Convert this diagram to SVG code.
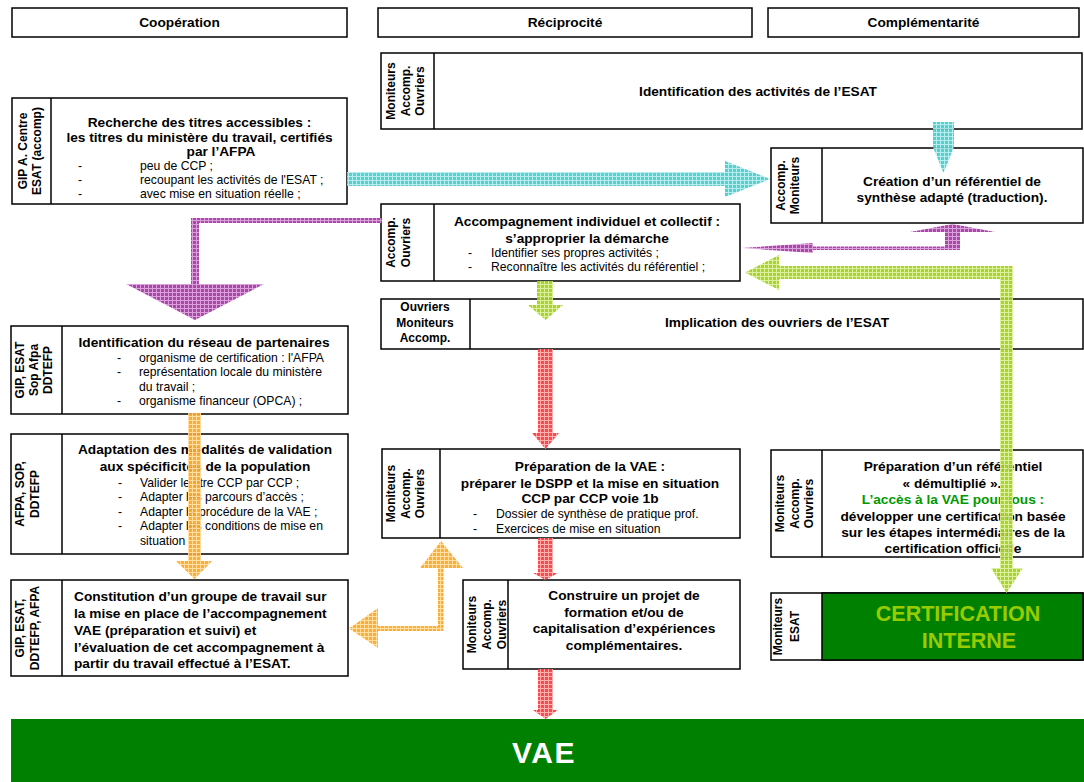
<svg xmlns="http://www.w3.org/2000/svg" width="1084" height="782" viewBox="0 0 1084 782">
<defs>
<style>
.box{fill:#fff;stroke:#000;stroke-width:1.5}
.dv{stroke:#000;stroke-width:1.5}
text{font-family:"Liberation Sans",Arial,sans-serif;fill:#000}
.t{font-weight:bold;font-size:13.7px}
.c{text-anchor:middle}
.l{font-size:12.2px}
.d{font-size:12.2px;text-anchor:middle}
.lab{font-weight:bold;font-size:12px;text-anchor:middle}
.big{font-weight:bold;font-size:21.5px;fill:#99CC00;text-anchor:middle}
.arr{opacity:0.92}
</style>
<pattern id="pCyan" width="4" height="4" patternUnits="userSpaceOnUse"><rect width="4" height="4" fill="#48CCCC"/><path d="M0 .5H4M.5 0V4" stroke="#B4ECEC" stroke-width="1"/></pattern>
<pattern id="pPurple" width="4" height="4" patternUnits="userSpaceOnUse"><rect width="4" height="4" fill="#A03AA0"/><path d="M0 .5H4M.5 0V4" stroke="#D898D8" stroke-width="1"/></pattern>
<pattern id="pLime" width="4" height="4" patternUnits="userSpaceOnUse"><rect width="4" height="4" fill="#A2D01E"/><path d="M0 .5H4M.5 0V4" stroke="#DAEE98" stroke-width="1"/></pattern>
<pattern id="pRed" width="4" height="4" patternUnits="userSpaceOnUse"><rect width="4" height="4" fill="#FF3A3A"/><path d="M0 .5H4M.5 0V4" stroke="#FFAAAA" stroke-width="1"/></pattern>
<pattern id="pOrange" width="4" height="4" patternUnits="userSpaceOnUse"><rect width="4" height="4" fill="#FFA626"/><path d="M0 .5H4M.5 0V4" stroke="#FFDC9C" stroke-width="1"/></pattern>
</defs>

<g id="headers">
<rect class="box" x="12" y="8" width="335" height="29"/>
<text class="t c" x="179.5" y="27">Coopération</text>
<rect class="box" x="378" y="8" width="374" height="29"/>
<text class="t c" x="565" y="27">Réciprocité</text>
<rect class="box" x="768" y="8" width="311" height="29"/>
<text class="t c" x="923.5" y="27">Complémentarité</text>
</g>

<g id="n-identification-activites">
<rect class="box" x="381" y="53" width="701" height="76"/>
<line class="dv" x1="434" y1="53" x2="434" y2="129"/>
<text class="lab" transform="translate(395.3,91) rotate(-90)">Moniteurs</text>
<text class="lab" transform="translate(410.3,91) rotate(-90)">Accomp.</text>
<text class="lab" transform="translate(424.3,91) rotate(-90)">Ouvriers</text>
<text class="t c" x="758" y="96">Identification des activités de l’ESAT</text>
</g>

<g id="n-recherche-titres">
<rect class="box" x="12" y="98" width="335" height="106"/>
<line class="dv" x1="51" y1="98" x2="51" y2="204"/>
<text class="lab" transform="translate(27.3,151) rotate(-90)">GIP A. Centre</text>
<text class="lab" transform="translate(41.3,151) rotate(-90)">ESAT (accomp)</text>
<text class="t c" x="199.5" y="127">Recherche des titres accessibles :</text>
<text class="t c" x="199.5" y="141.5">les titres du ministère du travail, certifiés</text>
<text class="t c" x="221" y="156">par l’AFPA</text>
<text class="d" x="80" y="170">-</text><text class="l" x="140" y="170">peu de CCP ;</text>
<text class="d" x="80" y="184">-</text><text class="l" x="140" y="184">recoupant les activités de l'ESAT ;</text>
<text class="d" x="80" y="198">-</text><text class="l" x="140" y="198">avec mise en situation réelle ;</text>
</g>

<g id="n-accompagnement">
<rect class="box" x="381" y="204" width="359" height="77"/>
<line class="dv" x1="434" y1="204" x2="434" y2="281"/>
<text class="lab" transform="translate(395.3,242.5) rotate(-90)">Accomp.</text>
<text class="lab" transform="translate(410.3,242.5) rotate(-90)">Ouvriers</text>
<text class="t c" x="587" y="226">Accompagnement individuel et collectif :</text>
<text class="t c" x="587" y="243">s’approprier la démarche</text>
<text class="d" x="470" y="256.5">-</text><text class="l" x="491" y="256.5">Identifier ses propres activités ;</text>
<text class="d" x="470" y="271">-</text><text class="l" x="491" y="271">Reconnaître les activités du référentiel ;</text>
</g>

<g id="n-creation-referentiel">
<rect class="box" x="771" y="148" width="312" height="75"/>
<line class="dv" x1="822" y1="148" x2="822" y2="223"/>
<text class="lab" transform="translate(785.3,185.5) rotate(-90)">Accomp.</text>
<text class="lab" transform="translate(799.3,185.5) rotate(-90)">Moniteurs</text>
<text class="t c" x="952" y="186">Création d’un référentiel de</text>
<text class="t c" x="952" y="202">synthèse adapté (traduction).</text>
</g>

<g id="n-implication">
<rect class="box" x="381" y="299" width="702" height="50"/>
<line class="dv" x1="470" y1="299" x2="470" y2="349"/>
<text class="lab" x="425" y="311">Ouvriers</text>
<text class="lab" x="425" y="327">Moniteurs</text>
<text class="lab" x="425" y="342">Accomp.</text>
<text class="t c" x="777" y="327">Implication des ouvriers de l’ESAT</text>
</g>

<g id="n-preparation-vae">
<rect class="box" x="382" y="449" width="358" height="89"/>
<line class="dv" x1="440" y1="449" x2="440" y2="538"/>
<text class="lab" transform="translate(395.3,493.5) rotate(-90)">Moniteurs</text>
<text class="lab" transform="translate(410.3,493.5) rotate(-90)">Accomp.</text>
<text class="lab" transform="translate(424.3,493.5) rotate(-90)">Ouvriers</text>
<text class="t c" x="590" y="471">Préparation de la VAE :</text>
<text class="t c" x="590" y="487.5">préparer le DSPP et la mise en situation</text>
<text class="t c" x="590" y="503">CCP par CCP voie 1b</text>
<text class="d" x="475" y="518">-</text><text class="l" x="496" y="518">Dossier de synthèse de pratique prof.</text>
<text class="d" x="475" y="533">-</text><text class="l" x="496" y="533">Exercices de mise en situation</text>
</g>

<g id="n-construire-projet">
<rect class="box" x="463" y="580" width="277" height="89"/>
<line class="dv" x1="508" y1="580" x2="508" y2="669"/>
<text class="lab" transform="translate(476.3,624.5) rotate(-90)">Moniteurs</text>
<text class="lab" transform="translate(491.3,624.5) rotate(-90)">Accomp.</text>
<text class="lab" transform="translate(506,624.5) rotate(-90)">Ouvriers</text>
<text class="t c" x="624" y="600">Construire un projet de</text>
<text class="t c" x="624" y="616.7">formation et/ou de</text>
<text class="t c" x="624" y="633.3">capitalisation d’expériences</text>
<text class="t c" x="624" y="650">complémentaires.</text>
</g>

<g id="n-preparation-referentiel">
<rect class="box" x="771" y="450" width="312" height="107"/>
<line class="dv" x1="822" y1="450" x2="822" y2="557"/>
<text class="lab" transform="translate(784.3,503.5) rotate(-90)">Moniteurs</text>
<text class="lab" transform="translate(799.3,503.5) rotate(-90)">Accomp.</text>
<text class="lab" transform="translate(813.3,503.5) rotate(-90)">Ouvriers</text>
<text class="t c" x="953" y="471">Préparation d’un référentiel</text>
<text class="t c" x="952" y="487.5">« démultiplié ».</text>
<text class="t c" x="953" y="504" style="fill:#009900">L’accès à la VAE pour tous :</text>
<text class="t c" x="953" y="520.5">développer une certification basée</text>
<text class="t c" x="953" y="537">sur les étapes intermédiaires de la</text>
<text class="t c" x="953" y="553">certification officielle</text>
</g>

<g id="n-certification-interne">
<rect class="box" x="771" y="593" width="312" height="67"/>
<rect x="822" y="593" width="261" height="67" fill="#008000" stroke="#000" stroke-width="1.5"/>
<text class="lab" transform="translate(782.3,626.5) rotate(-90)">Moniteurs</text>
<text class="lab" transform="translate(799.3,626.5) rotate(-90)">ESAT</text>
<text class="big" x="958" y="620.5">CERTIFICATION</text>
<text class="big" x="969" y="648">INTERNE</text>
</g>

<g id="n-reseau-partenaires">
<rect class="box" x="11" y="326" width="337" height="88"/>
<line class="dv" x1="62" y1="326" x2="62" y2="414"/>
<text class="lab" transform="translate(24.3,370) rotate(-90)">GIP, ESAT</text>
<text class="lab" transform="translate(38.3,370) rotate(-90)">Sop Afpa</text>
<text class="lab" transform="translate(52.3,370) rotate(-90)">DDTEFP</text>
<text class="t c" x="204" y="347">Identification du réseau de partenaires</text>
<text class="d" x="119" y="361.5">-</text><text class="l" x="139" y="361.5">organisme de certification : l'AFPA</text>
<text class="d" x="119" y="376">-</text><text class="l" x="139" y="376">représentation locale du ministère</text>
<text class="l" x="139" y="390.5">du travail ;</text>
<text class="d" x="119" y="405">-</text><text class="l" x="139" y="405">organisme financeur (OPCA) ;</text>
</g>

<g id="n-adaptation">
<rect class="box" x="11" y="434" width="337" height="120"/>
<line class="dv" x1="62" y1="434" x2="62" y2="554"/>
<text class="lab" transform="translate(24.3,494) rotate(-90)">AFPA, SOP,</text>
<text class="lab" transform="translate(39.3,494) rotate(-90)">DDTEFP</text>
<text class="t c" x="205" y="454">Adaptation des modalités de validation</text>
<text class="t c" x="205" y="471">aux spécificités de la population</text>
<text class="d" x="120" y="486.5">-</text><text class="l" x="140" y="486.5">Valider le titre CCP par CCP ;</text>
<text class="d" x="120" y="501">-</text><text class="l" x="140" y="501">Adapter les parcours d’accès ;</text>
<text class="d" x="120" y="515.5">-</text><text class="l" x="140" y="515.5">Adapter la procédure de la VAE ;</text>
<text class="d" x="120" y="530">-</text><text class="l" x="140" y="530">Adapter les conditions de mise en</text>
<text class="l" x="140" y="544.5">situation ;</text>
</g>

<g id="n-groupe-travail">
<rect class="box" x="11" y="580" width="337" height="96"/>
<line class="dv" x1="62" y1="580" x2="62" y2="676"/>
<text class="lab" transform="translate(24.3,628) rotate(-90)">GIP, ESAT,</text>
<text class="lab" transform="translate(39.3,628) rotate(-90)">DDTEFP, AFPA</text>
<text class="t" x="74" y="601">Constitution d’un groupe de travail sur</text>
<text class="t" x="74" y="618">la mise en place de l’accompagnement</text>
<text class="t" x="74" y="635">VAE (préparation et suivi) et</text>
<text class="t" x="74" y="651.5">l’évaluation de cet accompagnement à</text>
<text class="t" x="74" y="668">partir du travail effectué à l’ESAT.</text>
</g>

<g id="n-vae">
<rect x="11" y="719" width="1073" height="63" fill="#008000"/>
<text x="544" y="763" style="font-weight:bold;font-size:30px;fill:#fff;text-anchor:middle;letter-spacing:1.5px">VAE</text>
</g>

<g id="connectors" class="arr">
<path fill="url(#pCyan)" d="M347,172 H725 V161 L770,179 L725,197 V186 H347 Z"/>
<path fill="url(#pCyan)" d="M933,122 H954 V147 L943.5,173 L933,147 Z"/>
<path fill="url(#pPurple)" d="M382,218 V223 H199 V284 H264 L195,320 L126,284 H191 V218 Z"/>
<path fill="url(#pPurple)" d="M742,248 L813,243 V246.5 H945 V232 H910 L952.5,224 L995,232 H960 V250 H813 V253 Z"/>
<path fill="url(#pLime)" d="M745,272.5 L779,255 V266 H1013 V568 H1023 L1006.5,593 L991,568 H1000 V279 H779 V290 Z"/>
<path fill="url(#pLime)" d="M537,281 H553 V305 H563 L545.5,320 L528,305 H537 Z"/>
<path fill="url(#pRed)" d="M538,349 H553 V433 H559 L545.5,449 L532,433 H538 Z"/>
<path fill="url(#pRed)" d="M538,538 H553 V573 H558 L545.5,580 L533,573 H538 Z"/>
<path fill="url(#pRed)" d="M538,669 H553 V710 H558 L545.5,719 L533,710 H538 Z"/>
<path fill="url(#pOrange)" d="M188,413 H201 V561 H212 L194.5,579 L176,561 H188 Z"/>
<path fill="url(#pOrange)" d="M349,628.5 L378,608 V626 H438 V568 H420 L441,541 L463,568 H443.5 V631 H378 V648 Z"/>
</g>
</svg>
